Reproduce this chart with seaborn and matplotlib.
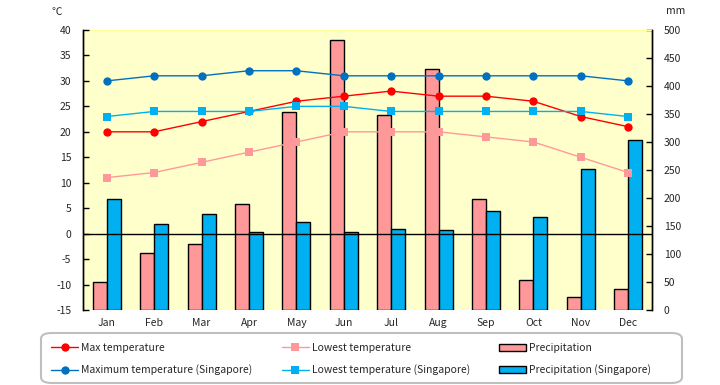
import pandas as pd
from matplotlib import pyplot as plt
from matplotlib.patches import FancyBboxPatch
import seaborn as sns
import numpy as np

months = ['Jan', 'Feb', 'Mar', 'Apr', 'May', 'Jun', 'Jul', 'Aug', 'Sep', 'Oct', 'Nov', 'Dec']

max_temp = [20, 20, 22, 24, 26, 27, 28, 27, 27, 26, 23, 21]
low_temp = [11, 12, 14, 16, 18, 20, 20, 20, 19, 18, 15, 12]
precip = [50, 101, 117, 190, 353, 483, 349, 431, 199, 53, 24, 37]

sg_max_temp = [30, 31, 31, 32, 32, 31, 31, 31, 31, 31, 31, 30]
sg_low_temp = [23, 24, 24, 24, 25, 25, 24, 24, 24, 24, 24, 23]
sg_precip = [198, 153, 171, 140, 157, 139, 144, 142, 176, 166, 251, 303]

temp_ticks = list(range(-15, 41, 5))
mm_ticks = list(range(0, 501, 50))

sns.set_style('white')
plt.rcParams['font.family'] = ['Noto Sans CJK JP', 'DejaVu Sans']
plt.rcParams['axes.unicode_minus'] = False

fig = plt.figure(figsize=(7.2, 3.85), dpi=100)
ax = fig.add_axes([83 / 720, 75 / 385, 569 / 720, 280 / 385])
ax.set_facecolor('#FFFFCC')

# precipitation bars (right axis)
bars = pd.DataFrame({
    'month': months * 2,
    'mm': precip + sg_precip,
    'series': ['Precipitation'] * 12 + ['Precipitation (Singapore)'] * 12,
})
sns.barplot(data=bars, x='month', y='mm', hue='series', palette=['#FF9999', '#00B0F0'],
            width=0.59, saturation=1, edgecolor='black', linewidth=1, ax=ax)
ax.set_ylim(0, 500)
ax.set_yticks(mm_ticks)
ax.set_xlabel('')
ax.set_ylabel('')
bar_handles, bar_labels = ax.get_legend_handles_labels()
ax.get_legend().remove()

# temperatures (left axis, drawn on top)
ax2 = ax.twinx()
x = np.arange(len(months))
ax2.axhline(0, color='black', linewidth=1, zorder=1)
sns.lineplot(x=x, y=max_temp, color='#FF0000', marker='o', markersize=6, markeredgewidth=0,
             linewidth=1, label='Max temperature', ax=ax2)
sns.lineplot(x=x, y=sg_max_temp, color='#0070C0', marker='o', markersize=6, markeredgewidth=0,
             linewidth=1, label='Maximum temperature (Singapore)', ax=ax2)
sns.lineplot(x=x, y=low_temp, color='#FF9999', marker='s', markersize=5.5, markeredgewidth=0,
             linewidth=1, label='Lowest temperature', ax=ax2)
sns.lineplot(x=x, y=sg_low_temp, color='#00B0F0', marker='s', markersize=5.5, markeredgewidth=0,
             linewidth=1, label='Lowest temperature (Singapore)', ax=ax2)
ax2.set_ylim(-15, 40)
ax2.set_yticks(temp_ticks)
line_handles, line_labels = ax2.get_legend_handles_labels()
ax2.get_legend().remove()

# swap sides: mm on the right, temperature on the left
ax.yaxis.set_ticks_position('right')
ax.yaxis.set_label_position('right')
ax2.yaxis.set_ticks_position('left')
ax2.yaxis.set_label_position('left')

for a in (ax, ax2):
    a.spines['bottom'].set_visible(False)
    a.spines['top'].set_visible(False)
    a.spines['left'].set_color('black')
    a.spines['right'].set_color('black')
    a.spines['left'].set_linewidth(1)
    a.spines['right'].set_linewidth(1)
ax.spines['top'].set_visible(True)
ax.spines['top'].set_color('#FFFF99')

ax.tick_params(axis='y', direction='in', length=4, width=1, color='black', pad=8.5, labelsize=7.5,
               left=False, labelleft=False, right=True, labelright=True)
ax2.tick_params(axis='y', direction='in', length=4, width=1, color='black', pad=8.5, labelsize=7.5,
                right=False, labelright=False, left=True, labelleft=True)
ax.tick_params(axis='x', length=0, pad=6, labelsize=7.5)
ax.set_xlim(-0.5, 11.5)

fig.text(57 / 720, 1 - 12 / 385, '℃', ha='center', va='center', fontsize=7.5)
fig.text(676 / 720, 1 - 11 / 385, 'mm', ha='center', va='center', fontsize=7.5)

# legend frame drawn separately, rounded grey box
frame = FancyBboxPatch((41 / 720, 2 / 385), 641 / 720, 50 / 385,
                       boxstyle='round,pad=0,rounding_size=0.015', transform=fig.transFigure,
                       facecolor='white', edgecolor='#BFBFBF', linewidth=1.5)
fig.patches.append(frame)

handles = [line_handles[0], line_handles[1], line_handles[2], line_handles[3], bar_handles[0], bar_handles[1]]
labels = [line_labels[0], line_labels[1], line_labels[2], line_labels[3], bar_labels[0], bar_labels[1]]
leg = fig.legend(handles, labels, ncol=3, loc='upper left',
                 bbox_to_anchor=(51 / 720, 1 - 343 / 385),
                 fontsize=7.5, frameon=False, handlelength=2.6, borderpad=0,
                 borderaxespad=0, labelspacing=1.1, handletextpad=0.3, columnspacing=2.8)

fig.savefig('out.png', dpi=100)
